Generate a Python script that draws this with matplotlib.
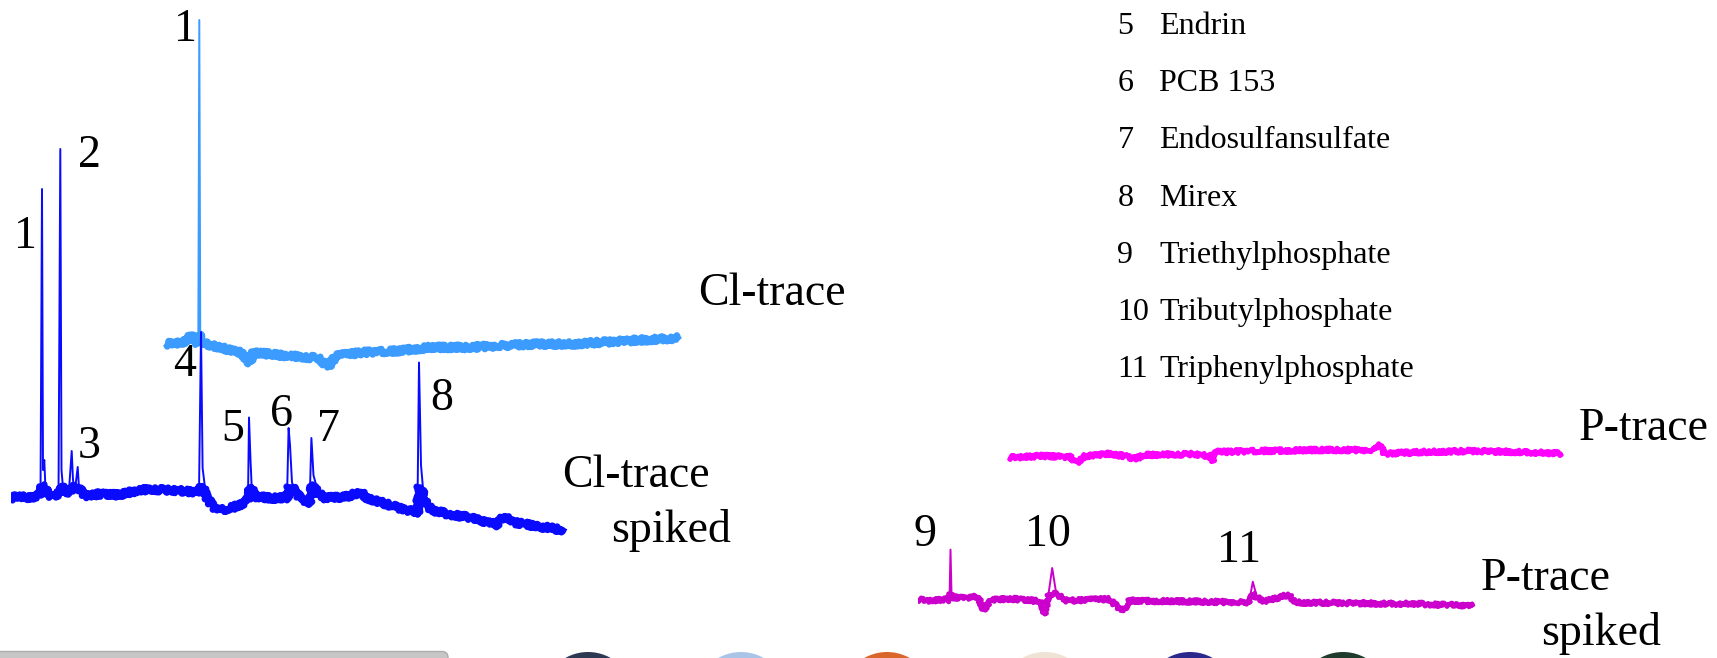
import numpy as np
import matplotlib
matplotlib.use("Agg")
import matplotlib.pyplot as plt
from matplotlib.patches import Circle, FancyBboxPatch

# ----- Chromatogram data (retention time in min, detector signal) -----
# Cl channel, spiked sample
cl_spiked_t = [4.00, 4.45, 4.95, 5.35, 5.475, 5.55, 5.60, 5.665, 5.725, 5.95,
               6.20, 6.375, 6.465, 6.525, 6.60, 6.75, 6.90, 7.035, 7.10, 7.20,
               7.335, 7.40, 7.70, 8.45, 9.45, 9.95, 10.95, 11.70, 12.70, 13.40,
               13.50, 13.58, 13.75, 14.10, 14.45, 15.15, 15.775, 15.85, 15.90, 15.975,
               16.04, 16.20, 16.95, 17.80, 17.88, 17.95, 18.05, 18.32, 18.67, 18.93,
               19.02, 19.125, 19.37, 19.72, 20.775, 21.475, 21.825, 23.23, 24.20, 24.32,
               24.40, 24.50, 24.635, 24.985, 25.85, 26.74, 28.30, 28.65, 29.00, 30.25,
               31.65]
cl_spiked_s = [1.0, 2.0, 1.0, 2.5, 2.0, 155.5, 15.0, 20.0, 5.0, 1.5,
               2.5, 2.5, 175.5, 15.0, 6.0, 3.0, 5.0, 24.5, 10.0, 5.0,
               16.5, 6.0, 2.0, 3.0, 2.5, 4.0, 5.5, 5.0, 4.5, 3.5,
               84.0, 16.0, 2.0, -3.5, -5.25, -3.5, -1.0, 0.0, 41.25, 20.0,
               5.25, 1.75, 1.0, 1.0, 36.0, 27.5, 8.75, 2.65, 0.0, -1.75,
               31.0, 12.3, 3.5, 1.0, 1.75, 4.0, 1.0, -3.5, -6.0, -7.35,
               68.75, 17.5, 1.75, -5.0, -7.0, -8.4, -12.3, -7.9, -10.9, -13.0,
               -15.0]

# Cl channel, blank sample
cl_blank_t = [11.75, 12.70, 12.97, 13.145, 13.365, 13.415, 13.465, 13.75, 14.45, 15.50,
              15.915, 16.125, 17.95, 19.35, 19.85, 20.25, 21.475, 23.23, 24.985, 26.74,
              28.50, 30.25, 32.00, 33.75, 35.50, 37.40]
cl_blank_s = [0.0, 1.0, 4.5, 1.0, 0.5, 162.0, 0.5, 0.0, -1.7, -4.3,
              -9.5, -4.3, -6.0, -7.0, -11.35, -6.0, -4.3, -3.5, -1.7, -1.7,
              -0.8, 0.0, 0.0, 1.0, 2.0, 3.0]

# P channel, spiked sample
p_spiked_t = [4.00, 4.665, 5.445, 5.575, 5.625, 5.68, 6.225, 7.01, 7.27, 7.66,
              8.83, 10.135, 10.345, 10.525, 10.71, 10.915, 11.44, 13.52, 14.25, 14.565,
              17.43, 20.555, 20.74, 20.95, 21.34, 22.51, 22.90, 26.55, 29.155, 31.76]
p_spiked_s = [10.2, 9.65, 10.5, 9.65, 35.2, 11.3, 11.0, 11.65, 5.0, 10.15,
              10.5, 9.3, 2.95, 13.0, 26.0, 13.0, 9.65, 10.5, 4.3, 9.65,
              9.3, 8.8, 19.15, 11.3, 9.3, 12.65, 8.8, 8.3, 8.0, 7.1]

# P channel, blank sample
p_blank_t = [8.55, 10.10, 11.60, 11.95, 12.35, 13.50, 14.35, 14.825, 15.35, 17.70,
             18.60, 18.735, 18.90, 21.10, 23.95, 26.80, 27.05, 27.33, 29.10, 31.75,
             34.10, 36.20]
p_blank_s = [-0.8, 0.0, -0.5, -3.25, 0.0, 1.0, 0.0, -1.5, 0.5, 1.0,
             0.0, -2.5, 2.0, 2.5, 3.0, 3.0, 6.0, 1.2, 2.0, 2.5,
             2.0, 1.2]

# peak numbering
cl_peak_ids = ["1", "2", "3", "4", "5", "6", "7", "8"]
cl_blank_peak_ids = ["1"]
p_peak_ids = ["9", "10", "11"]

legend_ids = ["5", "6", "7", "8", "9", "10", "11"]
legend_names = ["Endrin", "PCB 153", "Endosulfansulfate", "Mirex",
                "Triethylphosphate", "Tributylphosphate", "Triphenylphosphate"]

# ----- layout -----
W, H = 1717, 658
CL_OFFSET = 78      # vertical shift of the blank Cl trace
P_OFFSET = 82       # vertical shift of the blank P trace
cl_label_xy = [(4.7, 126), (7.9, 166.5), (7.9, 21), (12.7, 62), (15.075, 29.5),
               (17.5, 37), (19.875, 29.5), (25.525, 45)]
cl_blank_label_xy = [(12.7, 229.5)]
p_label_xy = [(4.35, 37.2), (10.485, 37.2), (20.05, 29.2)]

SERIF = ["Liberation Serif", "DejaVu Serif"]
BIG = 33
SMALL = 23


def draw_trace(ax, t, s, color, band_lw, cap, offset=0.0, z=3, fuzz=2.2):
    t = np.asarray(t, dtype=float)
    s = np.asarray(s, dtype=float) + offset
    # detector noise on the baseline: a band drawn with a sketchy stroke,
    # peaks as thin lines on top
    band, = ax.plot(t, np.minimum(s, cap + offset), color=color, lw=band_lw,
                    solid_joinstyle="round", solid_capstyle="butt", zorder=z)
    band.set_sketch_params(scale=fuzz, length=1.6, randomness=3)
    ax.plot(t, np.minimum(s, cap + offset), color=color, lw=band_lw * 0.8,
            solid_joinstyle="round", solid_capstyle="butt", zorder=z)
    ax.plot(t, s, color=color, lw=1.4, solid_joinstyle="round", zorder=z + 0.5)


def fig_text(fig, px, py, txt, size, ha="left"):
    fig.text(px / W, 1 - py / H, txt, fontsize=size, family=SERIF,
             ha=ha, va="baseline", color="black")


fig = plt.figure(figsize=(W / 100, H / 100), dpi=100)
fig.patch.set_facecolor("white")

# background decorations (slide footer)
deco = fig.add_axes([0, 0, 1, 1], zorder=0)
deco.set_xlim(0, W)
deco.set_ylim(H, 0)
deco.axis("off")
deco.add_patch(FancyBboxPatch((-20, 651.5), 468, 20,
                              boxstyle="round,pad=0,rounding_size=6",
                              facecolor="#c6c6c6", edgecolor="#adadad", lw=1.0))
for cx, col in zip([588, 741, 887, 1045, 1190, 1343],
                   ["#2d3852", "#a9c4e6", "#d9662a", "#efe3d6", "#2b2a8c", "#1f3b2c"]):
    deco.add_patch(Circle((cx, 698), 46, facecolor=col, edgecolor="none"))

# Cl channel
ax_cl = fig.add_axes([11 / W, 1 - 540 / H, 700 / W, 540 / H], zorder=2)
ax_cl.set_xlim(4, 39)
ax_cl.set_ylim(-20, 250)
ax_cl.axis("off")
ax_cl.patch.set_alpha(0)
draw_trace(ax_cl, cl_blank_t, cl_blank_s, "#3b9bff", 4.8, 5.0, CL_OFFSET, z=3, fuzz=2.6)
draw_trace(ax_cl, cl_spiked_t, cl_spiked_s, "#0a0aff", 4.8, 6.5, 0.0, z=4, fuzz=2.6)
for lab, (x, y) in zip(cl_peak_ids, cl_label_xy):
    ax_cl.text(x, y, lab, fontsize=BIG, family=SERIF, ha="center", va="baseline")
for lab, (x, y) in zip(cl_blank_peak_ids, cl_blank_label_xy):
    ax_cl.text(x, y, lab, fontsize=BIG, family=SERIF, ha="center", va="baseline")

# P channel
ax_p = fig.add_axes([918 / W, 1 - 640 / H, 700 / W, 220 / H], zorder=2)
ax_p.set_xlim(4, 39)
ax_p.set_ylim(-10, 100)
ax_p.axis("off")
ax_p.patch.set_alpha(0)
draw_trace(ax_p, p_blank_t, p_blank_s, "#ff00ff", 3.6, 7.0, P_OFFSET, fuzz=2.0)
draw_trace(ax_p, p_spiked_t, p_spiked_s, "#cc00cc", 3.4, 13.0, 0.0, fuzz=2.0)
for lab, (x, y) in zip(p_peak_ids, p_label_xy):
    ax_p.text(x, y, lab, fontsize=BIG, family=SERIF, ha="center", va="baseline")

# trace names
fig_text(fig, 698, 305, "Cl-trace", BIG)
fig_text(fig, 562, 486.7, "Cl-trace", BIG)
fig_text(fig, 611, 541.7, "spiked", BIG)
fig_text(fig, 1579, 440, "P-trace", BIG)
fig_text(fig, 1481, 590, "P-trace", BIG)
fig_text(fig, 1541, 645, "spiked", BIG)

# compound list
for i, (num, name) in enumerate(zip(legend_ids, legend_names)):
    y = 34.3 + i * 57.07
    fig_text(fig, 1117.5, y, num, SMALL)
    fig_text(fig, 1159, y, name, SMALL)

fig.savefig("out.png", dpi=100, facecolor="white")
